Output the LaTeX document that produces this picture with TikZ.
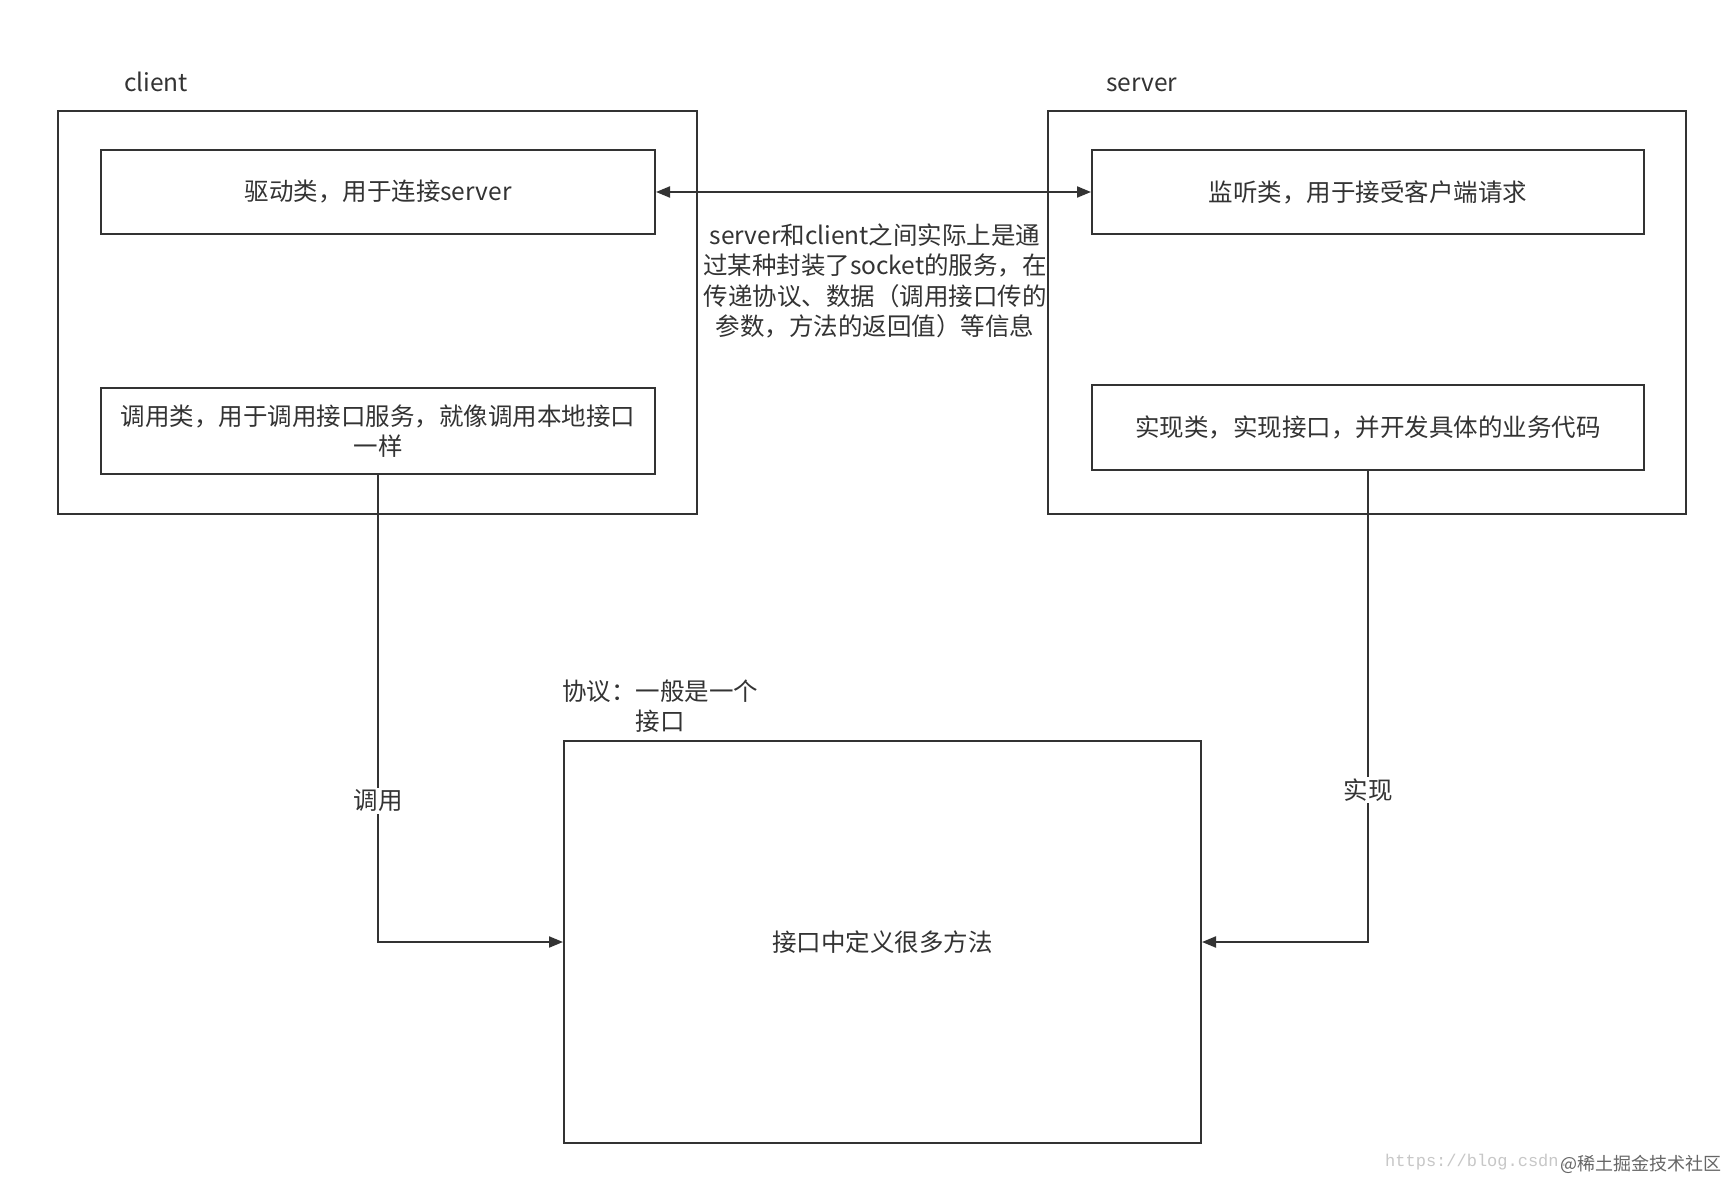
\documentclass[tikz,border=0pt]{standalone}
\usepackage{fontspec}
\setmainfont{Noto Sans CJK SC}
\newfontfamily\wmfont{Liberation Mono}
\usetikzlibrary{arrows.meta}
\definecolor{ink}{HTML}{333333}
\tikzset{
  box/.style={draw=ink, line width=2pt, fill=none},
  lbl/.style={text=ink, font=\fontsize{24.5}{30.5}\selectfont, inner sep=0pt},
  conn/.style={draw=ink, line width=2pt, -{Triangle[length=14pt,width=11pt]}},
  edgelbl/.style={lbl, fill=white, inner sep=2pt}
}
\begin{document}
\begin{tikzpicture}[x=1pt,y=-1pt]
\useasboundingbox (0,0) rectangle (1726,1182);
\fill[white] (0,0) rectangle (1726,1182);
% outer boxes
\draw[box] (58,111) rectangle (697,514);
\draw[box] (1048,111) rectangle (1686,514);
\node[lbl, anchor=base west] (clientlbl) at (124,92) {client};
\node[lbl, anchor=base west] (serverlbl) at (1106,92) {server};
% inner boxes
\node[box, lbl, draw=ink, line width=2pt, minimum width=554pt, minimum height=84pt, anchor=north west] (driver) at (100,149) {驱动类，用于连接server};
\node[box, lbl, draw=ink, line width=2pt, minimum width=554pt, minimum height=86pt, anchor=north west, align=center] (caller) at (100,387) {调用类，用于调用接口服务，就像调用本地接口\\一样};
\node[box, lbl, draw=ink, line width=2pt, minimum width=552pt, minimum height=84pt, anchor=north west] (listener) at (1091,149) {监听类，用于接受客户端请求};
\node[box, lbl, draw=ink, line width=2pt, minimum width=552pt, minimum height=85pt, anchor=north west] (impl) at (1091,384) {实现类，实现接口，并开发具体的业务代码};
\node[box, lbl, draw=ink, line width=2pt, minimum width=637pt, minimum height=402pt, anchor=north west] (iface) at (563,740) {接口中定义很多方法};
% middle text
\node[lbl, align=center] (mid) at (875,281) {server和client之间实际上是通\\过某种封装了socket的服务，在\\传递协议、数据（调用接口传的\\参数，方法的返回值）等信息};
% protocol label
\node[lbl, align=center] (proto) at (660,706) {协议：一般是一个\\接口};
% connectors
\draw[draw=ink, line width=2pt, {Triangle[length=14pt,width=11pt]}-{Triangle[length=14pt,width=11pt]}] (driver.east) -- (listener.west);
\coordinate (callcorner) at (caller.south |- iface.west);
\coordinate (implcorner) at (impl.south |- iface.east);
\draw[conn] (caller.south) -- (callcorner) -- (iface.west);
\draw[conn] (impl.south) -- (implcorner) -- (iface.east);
\node[edgelbl] (calllbl) at (caller.south |- 0,801) {调用};
\node[edgelbl] (impllbl) at (impl.south |- 0,790) {实现};
% watermark
\node[anchor=west, inner sep=0pt, text=black!22, font=\wmfont\fontsize{17}{17}\selectfont] (wm1) at (1385,1162) {https://blog.csdn.};
\node[anchor=west, inner sep=0pt, text=black!60, font=\fontsize{18}{18}\selectfont] (wm2) at (1560,1164) {@稀土掘金技术社区};
\end{tikzpicture}
\end{document}
